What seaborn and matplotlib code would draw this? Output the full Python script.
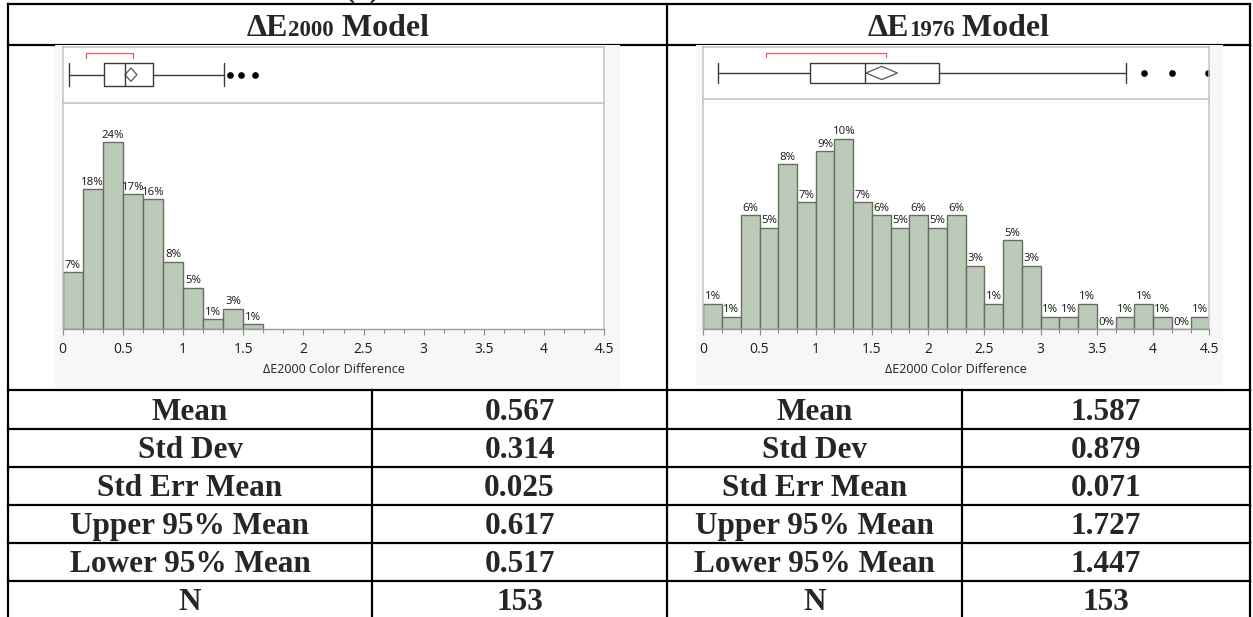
import numpy as np
import pandas as pd
import matplotlib
matplotlib.use("Agg")
import matplotlib.pyplot as plt
import seaborn as sns
from matplotlib.patches import Rectangle, Polygon
from matplotlib.ticker import MultipleLocator
from matplotlib.offsetbox import TextArea, HPacker, AnnotationBbox

# ------------------------------------------------------------------ data
bin_width = 1 / 6
left_counts = [11, 27, 36, 26, 25, 13, 8, 2, 4, 1]
right_counts = [2, 1, 9, 8, 13, 10, 14, 15, 10, 9, 8, 9, 8, 9, 5, 2, 7, 5,
                1, 1, 2, 0, 1, 2, 1, 0, 1]

left_box = dict(whislo=0.05, q1=0.34, med=0.515, q3=0.75, whishi=1.34)
left_outliers = [1.39, 1.48, 1.60]
left_shortest_half = [0.19, 0.585]

right_box = dict(whislo=0.135, q1=0.95, med=1.44, q3=2.10, whishi=3.76)
right_outliers = [3.92, 4.17, 4.49]
right_shortest_half = [0.555, 1.625]

stat_names = ["Mean", "Std Dev", "Std Err Mean", "Upper 95% Mean",
              "Lower 95% Mean", "N"]
left_stats = [0.567, 0.314, 0.025, 0.617, 0.517, 153]
right_stats = [1.587, 0.879, 0.071, 1.727, 1.447, 153]

x_ticks = [0, 0.5, 1, 1.5, 2, 2.5, 3, 3.5, 4, 4.5]
x_tick_labels = ["0", "0.5", "1", "1.5", "2", "2.5", "3", "3.5", "4", "4.5"]
x_label = "ΔE2000 Color Difference"
titles = [("ΔE", "2000", " Model"), ("ΔE", "1976", " Model")]

# ------------------------------------------------------------------ style
sns.set_theme(style="white")
plt.rcParams['font.family'] = ['Open Sans', 'DejaVu Sans']
SERIF = ['Liberation Serif', 'DejaVu Serif']

W, H = 1253, 617
fig = plt.figure(figsize=(W / 100, H / 100), dpi=100)

base = fig.add_axes([0, 0, 1, 1])
base.set_xlim(0, W)
base.set_ylim(H, 0)
base.axis('off')


def px_axes(x0, y0, x1, y1):
    return fig.add_axes([x0 / W, 1 - y1 / H, (x1 - x0) / W, (y1 - y0) / H])


# ------------------------------------------------------------------ table grid
LW = 1.6
L, MID, R = 8, 667, 1250
TOP, HDR = 4, 44.5
row_lines = [390, 429, 467, 505, 543, 581]
col_div = [372, 962]
kw = dict(color='black', lw=LW, zorder=1, solid_capstyle='projecting')
for y in [TOP, HDR] + row_lines:
    base.plot([L, R], [y, y], **kw)
for x in [L, MID, R]:
    base.plot([x, x], [TOP, H + 2], **kw)
for x in col_div:
    base.plot([x, x], [row_lines[0], H + 2], **kw)

# panel backgrounds (cover header line like a pasted image)
base.add_patch(Rectangle((55, 45), 565, 343, fc='#f7f7f7', ec='none', zorder=3))
base.add_patch(Rectangle((696, 45), 527, 340, fc='#f7f7f7', ec='none', zorder=3))

# partially visible caption at the very top (cut off in the source image too)
base.text(362, -4, "(a)", ha='center', va='baseline', fontsize=22,
          fontweight='bold', family=SERIF)

# titles
for (a, sub, b), xc in zip(titles, [(L + MID) / 2, (MID + R) / 2]):
    parts = [TextArea(a, textprops=dict(fontsize=23, fontweight='bold', family=SERIF)),
             TextArea(sub, textprops=dict(fontsize=16.5, fontweight='bold', family=SERIF)),
             TextArea(b, textprops=dict(fontsize=23, fontweight='bold', family=SERIF))]
    pack = HPacker(children=parts, align='baseline', pad=0, sep=0)
    ab = AnnotationBbox(pack, (xc, 29), xycoords='data', frameon=False,
                        box_alignment=(0.5, 0.5), pad=0)
    base.add_artist(ab)

# table text
row_edges = row_lines + [619]
for i, name in enumerate(stat_names):
    yb = (row_edges[i] + row_edges[i + 1]) / 2 + 10.3
    for (x0, x1, txt) in [(L, col_div[0], name),
                          (col_div[0], MID, left_stats[i]),
                          (MID, col_div[1], name),
                          (col_div[1], R, right_stats[i])]:
        if isinstance(txt, float):
            txt = f"{txt:.3f}"
        base.text((x0 + x1) / 2, yb, str(txt), ha='center', va='baseline',
                  fontsize=22.5, fontweight='bold', family=SERIF)

# ------------------------------------------------------------------ plots
FILL = '#bccaba'
EDGE = '#66705f'
FRAME = '#c4c4c4'
DARK = '#3a3a3a'


def hist_panel(rect, counts, ymax):
    ax = px_axes(*rect)
    n = sum(counts)
    nb = len(counts)
    centers = (np.arange(nb) + 0.5) * bin_width
    df = pd.DataFrame({"value": centers, "count": counts})
    sns.histplot(data=df, x="value", weights="count", binwidth=bin_width,
                 binrange=(0, nb * bin_width), ax=ax, color=FILL,
                 edgecolor=EDGE, linewidth=1.0, alpha=1)
    ax.set_xlim(0, 4.5)
    ax.set_ylim(0, ymax)
    labels = [f"{round(c / n * 100):d}%" for c in counts]
    ax.bar_label(ax.containers[0], labels=labels, padding=1.0, fontsize=8.2,
                 color='#151515')
    ax.set_facecolor('white')
    for s in ['left', 'right', 'top']:
        ax.spines[s].set_color(FRAME)
        ax.spines[s].set_linewidth(1.1)
    ax.spines['bottom'].set_color('#9a9a9a')
    ax.spines['bottom'].set_linewidth(1.0)
    ax.set_yticks([])
    ax.set_ylabel('')
    ax.set_xticks(x_ticks)
    ax.set_xticklabels(x_tick_labels)
    ax.xaxis.set_minor_locator(MultipleLocator(bin_width))
    ax.tick_params(axis='x', which='major', bottom=True, length=4.3, width=0.8,
                   color='#8a8a8a', pad=5, labelsize=10, labelcolor='#1c1c2a')
    ax.tick_params(axis='x', which='minor', bottom=True, length=2.9, width=0.8,
                   color='#8a8a8a')
    ax.set_xlabel(x_label, fontsize=9, color='#202020', labelpad=4)
    return ax


def box_panel(rect, box, outliers, half, mean, lo, hi, yc, bh, yb, yt, dh):
    x0, y0, x1, y1 = rect
    ax = px_axes(*rect)
    ax.set_xlim(0, 4.5)
    ax.set_ylim(y1 - y0, 0)
    stats = [dict(box, fliers=outliers, label='')]
    ax.bxp(stats, positions=[yc - y0], widths=[bh], orientation='horizontal',
           showcaps=True, capwidths=[bh], showfliers=True, manage_ticks=False,
           boxprops=dict(color=DARK, lw=1.0),
           whiskerprops=dict(color=DARK, lw=1.0),
           capprops=dict(color=DARK, lw=1.0),
           medianprops=dict(color=DARK, lw=1.0),
           flierprops=dict(marker='o', mfc='black', mec='black', ms=3.8))
    yy = yc - y0
    ax.add_patch(Polygon([[lo, yy], [mean, yy - dh], [hi, yy], [mean, yy + dh]],
                         closed=True, fill=False, ec='#555555', lw=0.9))
    ax.plot([half[0], half[0], half[1], half[1]],
            [yt - y0, yb - y0, yb - y0, yt - y0], color='#ee5a64', lw=0.9)
    ax.set_xticks([])
    ax.set_yticks([])
    ax.set_facecolor('white')
    for s in ax.spines.values():
        s.set_color(FRAME)
        s.set_linewidth(1.1)
    return ax


hist_panel((62.7, 103.3, 604.3, 329.3), left_counts, 43.5)
hist_panel((703.3, 99.3, 1209.3, 329.3), right_counts, 18.1)

box_panel((62.7, 46.7, 604.3, 103.3), left_box, left_outliers, left_shortest_half,
          left_stats[0], left_stats[4], left_stats[3], 74.7, 22.7, 53.3, 57.7, 6.7)
box_panel((703.3, 46.7, 1209.3, 99.3), right_box, right_outliers, right_shortest_half,
          right_stats[0], right_stats[4], right_stats[3], 73.0, 21.0, 53.3, 57.2, 6.6)

fig.savefig("out.png", dpi=100)
